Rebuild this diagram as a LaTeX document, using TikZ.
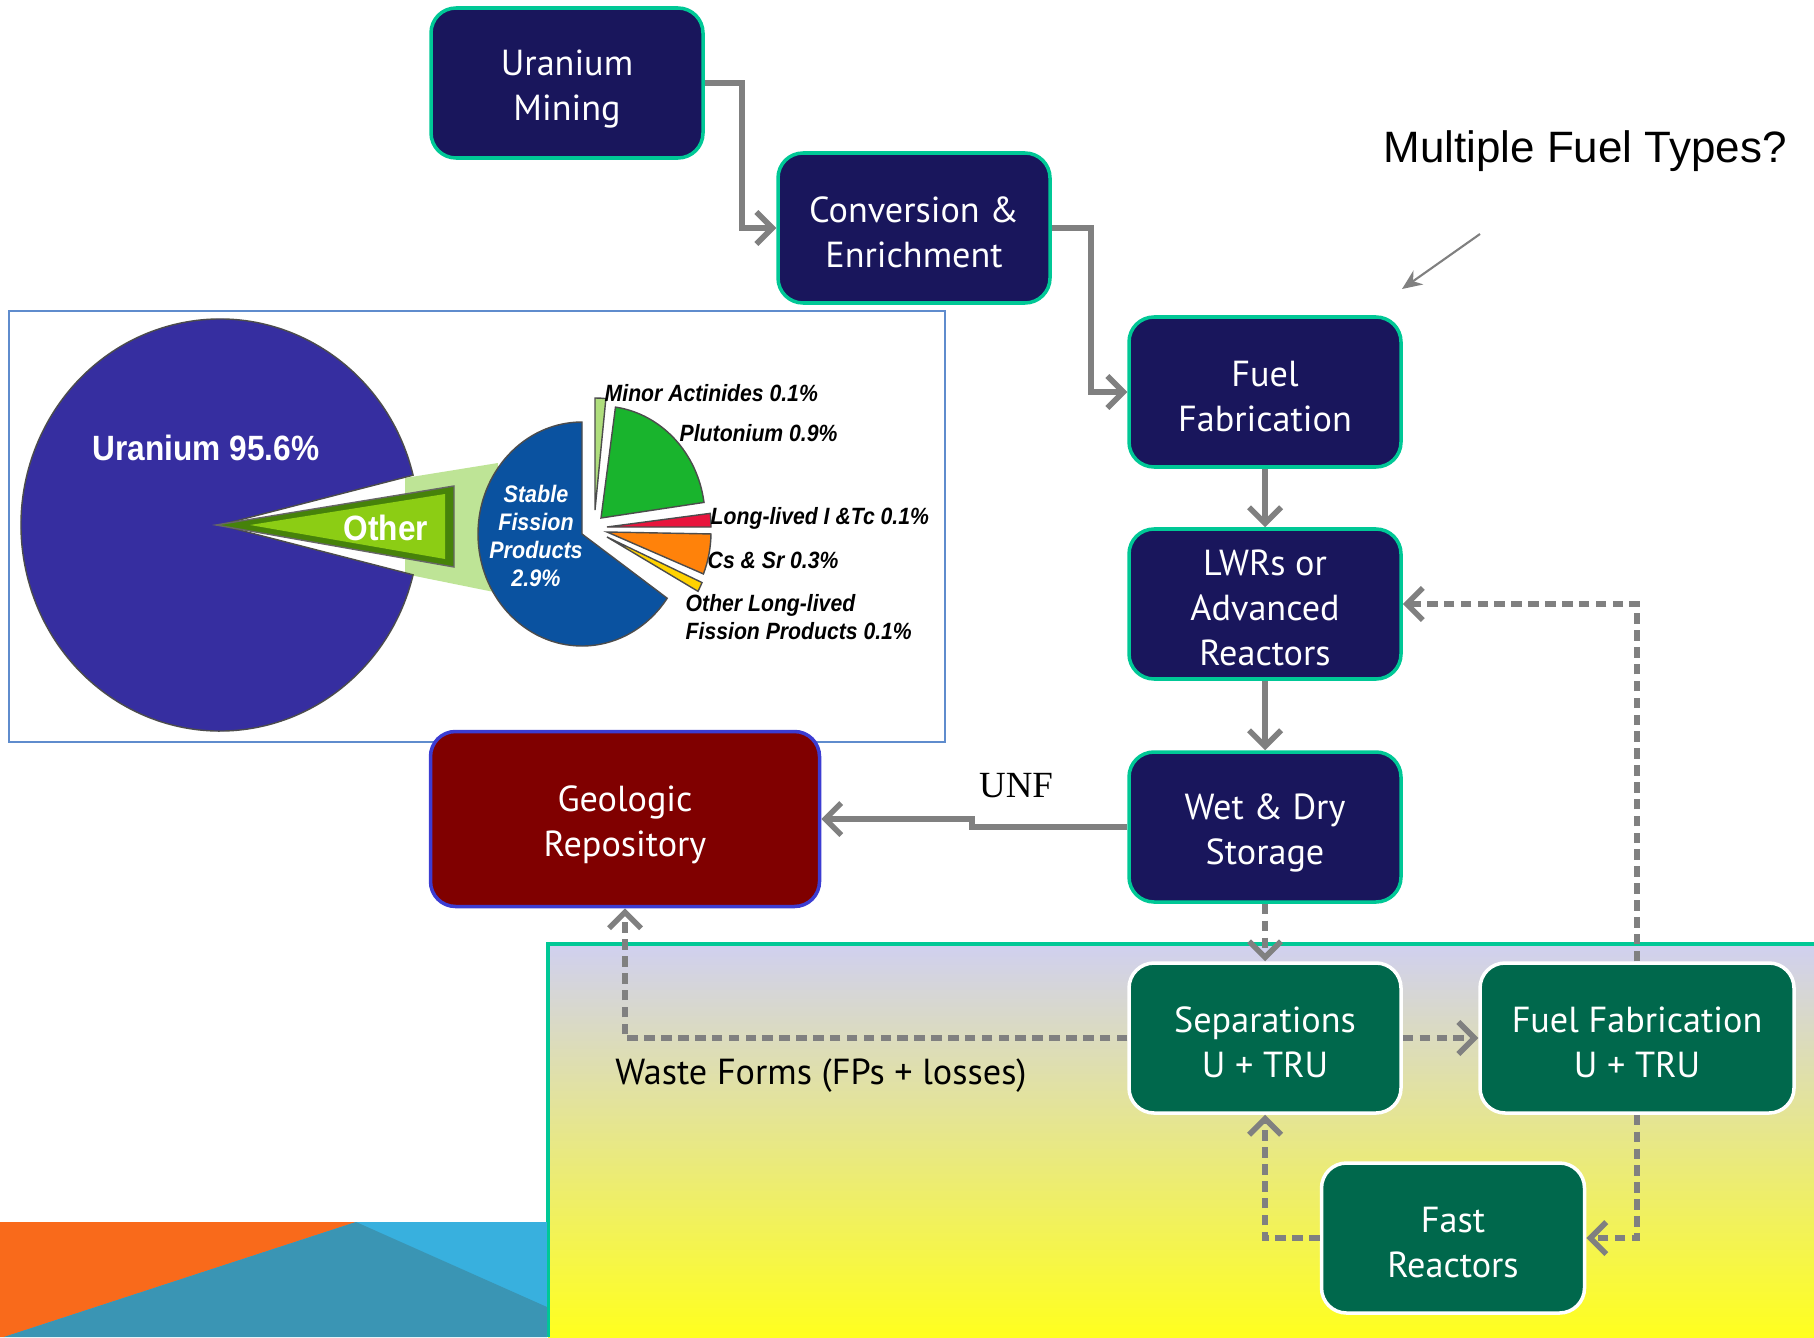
\documentclass[tikz,border=0pt]{standalone}
\usepackage{fontspec}
\usetikzlibrary{arrows.meta,positioning}
\setmainfont{PT Sans}
\newfontfamily\notefont{Liberation Sans}
\newfontfamily\unffont{Liberation Serif}
\newfontfamily\piefont[FakeStretch=0.9]{Liberation Sans}

\definecolor{boxnavy}{RGB}{25,22,92}
\definecolor{boxteal}{RGB}{0,200,150}
\definecolor{boxgreen}{RGB}{0,104,76}
\definecolor{boxmaroon}{RGB}{128,0,0}
\definecolor{boxblue}{RGB}{60,60,210}
\definecolor{flowgray}{RGB}{128,128,128}
\definecolor{looplavender}{RGB}{208,208,240}
\definecolor{loopgrey}{RGB}{226,226,200}
\definecolor{loopyellow}{RGB}{255,255,30}
\definecolor{frameblue}{RGB}{95,140,205}
\definecolor{uranium}{RGB}{54,46,160}
\definecolor{bandgreen}{RGB}{190,228,150}
\definecolor{otherlime}{RGB}{140,205,20}
\definecolor{otherdark}{RGB}{70,130,10}
\definecolor{sfpblue}{RGB}{10,82,160}
\definecolor{magreen}{RGB}{175,222,125}
\definecolor{pugreen}{RGB}{25,180,45}
\definecolor{ltred}{RGB}{232,20,60}
\definecolor{csorange}{RGB}{255,130,10}
\definecolor{olyellow}{RGB}{255,210,0}
\definecolor{deco_orange}{RGB}{249,106,27}
\definecolor{deco_light}{RGB}{56,176,222}
\definecolor{deco_dark}{RGB}{58,149,180}

\begin{document}
\begin{tikzpicture}[
        >=latex,
        font=\fontsize{10.3}{12.8}\selectfont,
        % navy process box
        block/.style={
            rectangle,
            draw=boxteal,
            fill=boxnavy,
            text=white,
            rounded corners=0.25cm,
            minimum width=2.72cm,
            minimum height=1.5cm,
            inner xsep=2pt,
            inner ysep=0pt,
            align=center,
            line width=1pt,
            execute at begin node={\rule{0pt}{23.5pt}},
            execute at end node={\rule[-1.2pt]{0pt}{0pt}}
        },
        % recycling boxes
        block_green/.style={
            block,
            draw=white,
            fill=boxgreen
        },
        % repository
        block_red/.style={
            block,
            draw=boxblue,
            fill=boxmaroon,
            minimum width=3.89cm,
            minimum height=1.75cm
        },
        % solid flow arrows
        arrow_main/.style={
            -{Straight Barb[length=1.6mm,width=3.2mm]},
            draw=flowgray,
            line width=1.6pt
        },
        % dashed recycle arrows
        arrow_loop/.style={
            arrow_main,
            dash pattern=on 3pt off 1.8pt
        },
        % pie chart texts
        pie_label/.style={
            font=\piefont\fontsize{6.7}{7.9}\selectfont\bfseries\itshape,
            anchor=west,
            inner sep=0pt,
            align=left
        },
        pie_white/.style={
            font=\piefont\fontsize{10}{12}\selectfont\bfseries,
            text=white,
            inner sep=0pt,
            align=center
        }
    ]
    \useasboundingbox (0,0) rectangle (18.14,-13.37);

    % --- 1. background pieces ---

    % advanced cycle area
    \shade[top color=looplavender, middle color=loopgrey, bottom color=loopyellow]
        (5.48,-9.44) rectangle (18.14,-13.37);
    \draw[boxteal, line width=1pt] (5.48,-13.37) -- (5.48,-9.44) -- (18.14,-9.44);

    % corner decoration
    \fill[deco_light] (0,-12.22) rectangle (5.47,-13.37);
    \fill[deco_orange] (0,-12.22) -- (3.56,-12.22) -- (0.04,-13.37) -- (0,-13.37) -- cycle;
    \fill[deco_dark] (3.56,-12.22) -- (5.47,-13.07) -- (5.47,-13.37) -- (0.04,-13.37) -- cycle;

    % --- 2. pie chart of spent fuel ---
    \draw[frameblue, line width=0.8pt, fill=white] (0.09,-3.11) rectangle (9.45,-7.42);

    \coordinate (ucenter) at (2.20,-5.25);
    \coordinate (fcenter) at (5.82,-5.34);

    % link band between the two pies
    \fill[bandgreen] (4.05,-4.78) -- (4.98,-4.63) -- (4.94,-5.92) -- (4.05,-5.74) -- cycle;

    % uranium
    \filldraw[fill=uranium, draw=black!70, line width=0.4pt] (ucenter)
        -- ++(14:1.99cm and 2.06cm)
        arc[start angle=14, end angle=346, x radius=1.99, y radius=2.06] -- cycle;

    % other wedge
    \filldraw[fill=otherdark, draw=black!60, line width=0.4pt]
        (2.16,-5.25) -- (4.54,-4.86) -- (4.54,-5.67) -- cycle;
    \fill[otherlime] (2.50,-5.25) -- (4.45,-4.94) -- (4.45,-5.59) -- cycle;

    % stable fission products
    \filldraw[fill=sfpblue, draw=black!70, line width=0.4pt] (fcenter)
        -- ++(90:1.04cm and 1.12cm)
        arc[start angle=90, end angle=325, x radius=1.04, y radius=1.12] -- cycle;

    % exploded slices
    \foreach \a/\b/\dx/\dy/\c in {84/90/0.13/0.24/magreen,
                                  8/82/0.19/0.16/pugreen,
                                  0/7/0.25/0.07/ltred,
                                  -22/-1/0.25/0.02/csorange,
                                  -29/-24/0.25/-0.03/olyellow}
        \filldraw[fill=\c, draw=black!70, line width=0.4pt] ([shift={(\dx,\dy)}]fcenter)
            -- ++(\a:1.04cm and 1.12cm)
            arc[start angle=\a, end angle=\b, x radius=1.04, y radius=1.12] -- cycle;

    \node (uranium_lbl) [pie_white] at (2.06,-4.48) {Uranium 95.6\%};
    \node (other_lbl) [pie_white] at (3.86,-5.28) {Other};
    \node (sfp_lbl) [pie_white, font=\piefont\fontsize{6.8}{7.9}\selectfont\bfseries\itshape]
        at (5.36,-5.36) {Stable\\Fission\\Products\\2.9\%};
    \node (ma_lbl) [pie_label] at (6.04,-3.93) {Minor Actinides 0.1\%};
    \node (pu_lbl) [pie_label] at (6.79,-4.33) {Plutonium 0.9\%};
    \node (itc_lbl) [pie_label] at (7.10,-5.18) {Long-lived I \&Tc 0.1\%};
    \node (cssr_lbl) [pie_label] at (7.07,-5.60) {Cs \& Sr 0.3\%};
    \node (olfp_lbl) [pie_label] at (6.85,-6.17) {Other Long-lived\\Fission Products 0.1\%};

    % --- 3. fuel cycle boxes ---
    \node (mining) [block] at (5.67,-0.83) {Uranium\\Mining};
    \node (conv) [block] at (9.14,-2.28) {Conversion \&\\Enrichment};
    \node (fab) [block] at (12.65,-3.92) {Fuel\\Fabrication};
    \node (lwr) [block, below of=fab, node distance=2.12cm,
        execute at begin node={\rule{0pt}{36pt}}] {LWRs or\\Advanced\\Reactors};
    \node (storage) [block, below of=lwr, node distance=2.23cm] {Wet \& Dry\\Storage};
    \node (geo) [block_red] at (6.25,-8.19) {Geologic\\Repository};
    \node (sep) [block_green, below of=storage, node distance=2.11cm] {Separations\\U + TRU};
    \node (fabtru) [block_green, right of=sep, node distance=3.72cm, minimum width=3.14cm]
        {Fuel Fabrication\\U + TRU};
    \node (fast) [block_green, minimum width=2.63cm] at (14.53,-12.38) {Fast\\Reactors};

    % notes
    \node (question) [font=\notefont\fontsize{12.5}{15}\selectfont] at (15.85,-1.51) {Multiple Fuel Types?};
    \node (unf) [font=\unffont\fontsize{10.5}{12}\selectfont] at (10.16,-7.86) {UNF};
    \node (waste) at (8.21,-10.76) {Waste Forms (FPs + losses)};

    % --- 4. once-through flow ---
    \draw[arrow_main] (mining.east) -- ++(0.37,0) |- (conv.west);
    \draw[arrow_main] (conv.east) -- ++(0.39,0) |- (fab.west);
    \draw[arrow_main] (fab.south) -- (lwr.north);
    \draw[arrow_main] (lwr.south) -- (storage.north);
    \draw[arrow_main] (storage.west) -- ++(-1.55,0) |- (geo.east);

    \coordinate (q_tail) at (14.80,-2.34);
    \coordinate (q_head) at (14.02,-2.89);
    \draw[-{Stealth[length=2mm,width=1.7mm]}, flowgray, line width=0.6pt] (q_tail) -- (q_head);

    % --- 5. recycle loops ---
    \draw[arrow_loop] (storage.south) -- (sep.north);
    \draw[arrow_loop] (sep.west) -| (geo.south);
    \draw[arrow_loop] (sep.east) -- (fabtru.west);
    \draw[arrow_loop] (fabtru.north) |- (lwr.east);
    \draw[arrow_loop] (fabtru.south) |- (fast.east);
    \draw[arrow_loop] (fast.west) -| (sep.south);

\end{tikzpicture}
\end{document}
